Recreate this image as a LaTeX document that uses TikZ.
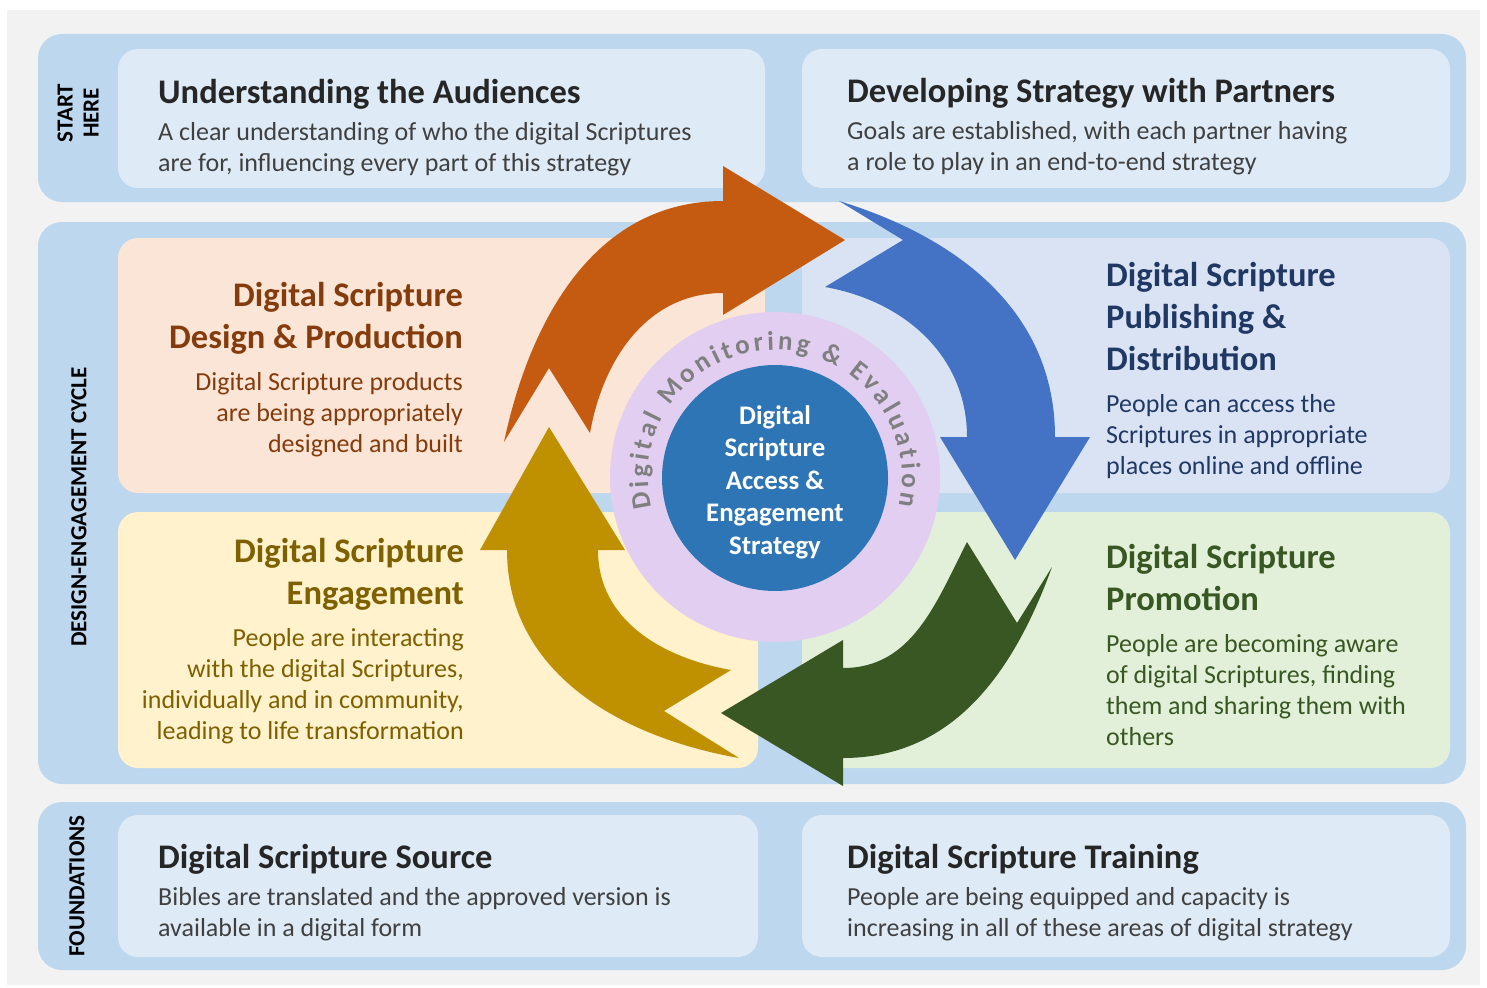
\documentclass[tikz,border=0pt]{standalone}
\usepackage{fontspec}
\setmainfont{Carlito}
\usetikzlibrary{decorations.text}
\definecolor{pagegray}{HTML}{F2F2F2}
\definecolor{bandblue}{HTML}{BDD7EE}
\definecolor{paleblue}{HTML}{DEEBF7}
\definecolor{peach}{HTML}{FBE5D6}
\definecolor{lilacblue}{HTML}{DAE3F3}
\definecolor{cream}{HTML}{FFF2CC}
\definecolor{mint}{HTML}{E2F0D9}
\definecolor{ringlilac}{HTML}{E2CEF1}
\definecolor{hubblue}{HTML}{2E75B6}
\definecolor{ringgray}{HTML}{7F7F7F}
\definecolor{arrorange}{HTML}{C55A11}
\definecolor{arrblue}{HTML}{4472C4}
\definecolor{arrgreen}{HTML}{385723}
\definecolor{arrgold}{HTML}{BF9000}
\definecolor{txtdark}{HTML}{262626}
\definecolor{txtbody}{HTML}{404040}
\definecolor{txtorange}{HTML}{843C0C}
\definecolor{txtblue}{HTML}{203864}
\definecolor{txtgold}{HTML}{7F6000}
\definecolor{txtgreen}{HTML}{385723}
\begin{document}
\begin{tikzpicture}[x=1pt,y=1pt,
	band/.style={fill=bandblue,rounded corners=24pt},
	panel/.style={rounded corners=20pt},
	title/.style={inner sep=0pt,font=\fontsize{34.5}{42}\selectfont\bfseries},
	blurb/.style={inner sep=0pt,font=\fontsize{26}{31}\selectfont},
	sidelabel/.style={rotate=90,align=center,inner sep=0pt,font=\fontsize{23}{26}\selectfont\bfseries}]
	\useasboundingbox (0,0) rectangle (1487,-987);
	\fill [white] (0,0) rectangle (1487,-987);
	\fill [pagegray] (7,-10) rectangle (1480,-985);
	\fill [band] (38,-34) rectangle (1466,-202);
	\fill [band] (38,-222) rectangle (1466,-784);
	\fill [band] (38,-802) rectangle (1466,-970);
	\fill [panel,paleblue] (118,-49) rectangle (765,-188);
	\fill [panel,paleblue] (802,-49) rectangle (1450,-188);
	\fill [panel,peach] (118,-238) rectangle (765,-493);
	\fill [panel,lilacblue] (802,-238) rectangle (1450,-493);
	\fill [panel,cream] (118,-512) rectangle (758,-768);
	\fill [panel,mint] (802,-512) rectangle (1450,-768);
	\fill [panel,paleblue] (118,-815) rectangle (758,-957);
	\fill [panel,paleblue] (802,-815) rectangle (1450,-957);
	\node [sidelabel] (start) at (78,-113) {START\\HERE};
	\node [sidelabel] (cycle) at (79,-507) {DESIGN-ENGAGEMENT CYCLE};
	\node [sidelabel] (found) at (77,-886) {FOUNDATIONS};
	\node [title,txtdark,anchor=north west] (audT) at (158,-79) {Understanding the Audiences};
	\node [blurb,txtbody,anchor=north west,align=left] (audB) at (158,-122) {A clear understanding of who the digital Scriptures\\are for, influencing every part of this strategy};
	\node [title,txtdark,anchor=north west] (partT) at (847,-78) {Developing Strategy with Partners};
	\node [blurb,txtbody,anchor=north west,align=left] (partB) at (847,-121) {Goals are established, with each partner having\\a role to play in an end-to-end strategy};
	\node [title,txtdark,anchor=north west] (srcT) at (158,-844) {Digital Scripture Source};
	\node [blurb,txtbody,anchor=north west,align=left] (srcB) at (158,-887) {Bibles are translated and the approved version is\\available in a digital form};
	\node [title,txtdark,anchor=north west] (trainT) at (847,-844) {Digital Scripture Training};
	\node [blurb,txtbody,anchor=north west,align=left] (trainB) at (847,-887) {People are being equipped and capacity is\\increasing in all of these areas of digital strategy};
	\node [title,txtorange,anchor=north east,align=right] (designT) at (463,-282) {Digital Scripture\\Design \& Production};
	\node [blurb,txtorange,anchor=north east,align=right] (designB) at (463,-372) {Digital Scripture products\\are being appropriately\\designed and built};
	\node [title,txtblue,anchor=north west,align=left] (pubT) at (1106,-262) {Digital Scripture\\Publishing \&\\Distribution};
	\node [blurb,txtblue,anchor=north west,align=left] (pubB) at (1106,-394) {People can access the\\Scriptures in appropriate\\places online and offline};
	\node [title,txtgold,anchor=north east,align=right] (engT) at (464,-538) {Digital Scripture\\Engagement};
	\node [blurb,txtgold,anchor=north east,align=right] (engB) at (464,-628) {People are interacting\\with the digital Scriptures,\\individually and in community,\\leading to life transformation};
	\node [title,txtgreen,anchor=north west,align=left] (promT) at (1106,-544) {Digital Scripture\\Promotion};
	\node [blurb,txtgreen,anchor=north west,align=left] (promB) at (1106,-634) {People are becoming aware\\of digital Scriptures, finding\\them and sharing them with\\others};
	\fill [arrorange] (504,-442) to[out=78,in=180] (723,-201) -- (723,-166) -- (845,-240) -- (723,-315) -- (723,-293) to[out=180,in=80] (590,-433) -- (549,-368) -- cycle;
	\fill [arrblue] (839,-201) to[out=-17,in=90] (1055,-437) -- (1090,-437) -- (1015,-560) -- (940,-437) -- (967,-437) to[out=90,in=-10] (825,-287) -- (903,-240) -- cycle;
	\fill [arrgreen] (1052,-567) to[out=-110,in=0] (843,-758) -- (843,-786) -- (721,-713) -- (843,-640) -- (843,-668) to[out=0,in=-117] (967,-542) -- (1017,-623) -- cycle;
	\fill [arrgold] (739,-758) to[out=170,in=-90] (507,-550) -- (480,-550) -- (549,-427) -- (625,-550) -- (598,-550) to[out=-90,in=170] (731,-670) -- (664,-711) -- cycle;
	\fill [ringlilac] (775,-477) circle (165);
	\path [decorate,decoration={text along path,text align=fit to path,
		text={|\fontsize{27}{27}\selectfont\bfseries\color{ringgray}|Digital Monitoring {\&} Evaluation}}]
		(775,-477) ++(194:127) arc[start angle=194,end angle=-13,radius=127];
	\node [circle,fill=hubblue,minimum size=226pt,inner sep=0pt] (hub) at (775,-478) {};
	\node [align=center,text=white,inner sep=0pt,font=\fontsize{26.8}{32.5}\selectfont\bfseries] (hubT) at (775,-482) {Digital\\Scripture\\Access \&\\Engagement\\Strategy};
\end{tikzpicture}
\end{document}
